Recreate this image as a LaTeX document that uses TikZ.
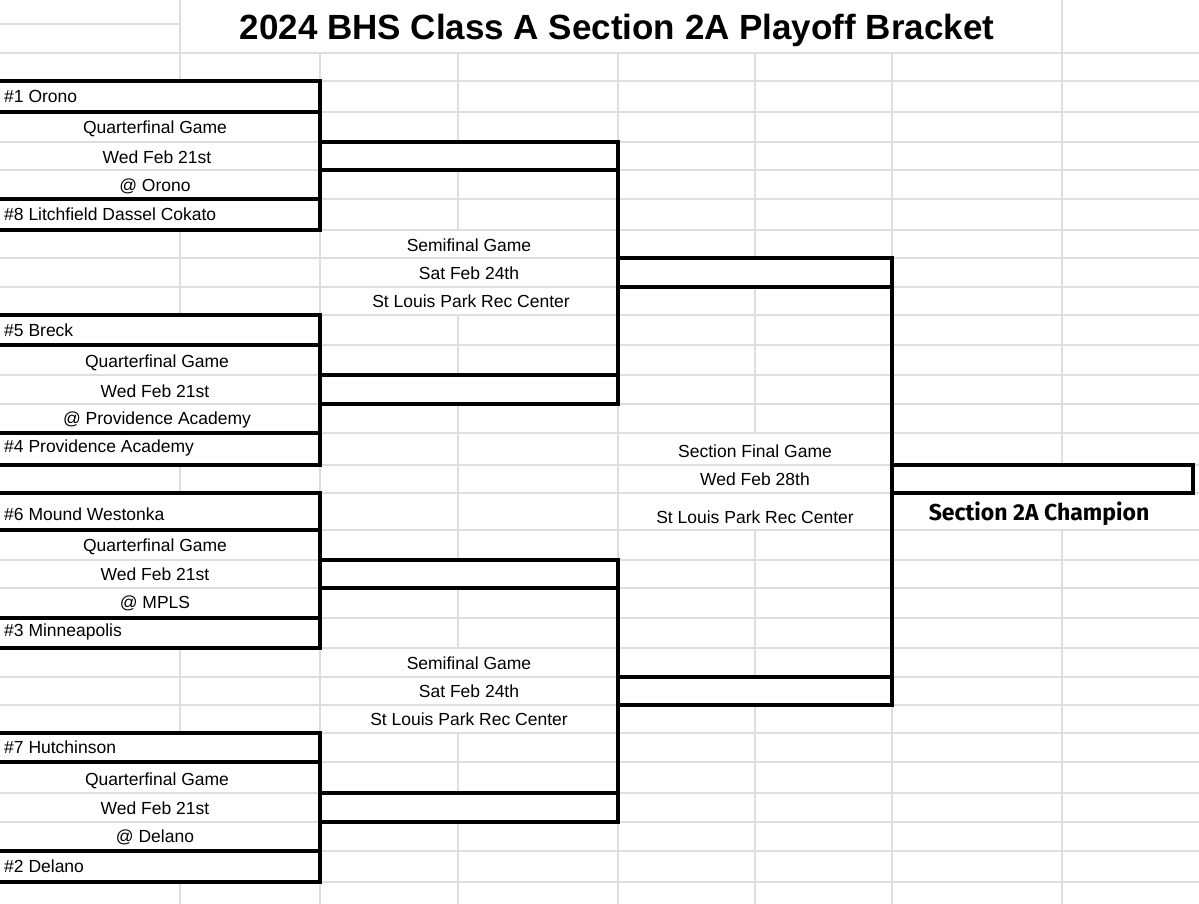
\documentclass[tikz,border=0pt]{standalone}
\usepackage{fontspec}
\setmainfont{Liberation Sans}
\newfontfamily\champfont{Fira Sans}
\begin{document}
\begin{tikzpicture}[x=1pt,y=-1pt,
  grid/.style={draw=black!13,line width=1.2pt},
  thick/.style={draw=black,line width=3.2pt},
  lbl/.style={font=\fontsize{17.5}{20}\selectfont,inner sep=0pt},
  tlbl/.style={lbl,anchor=west}]
\useasboundingbox (0,0) rectangle (1199,904);
\fill[white] (0,0) rectangle (1199,904);
% grid
\foreach \y in {81,112,142,170,199,230,258,287,315,345,375,404,433,465,493,530,560,588,618,648,677,705,733,762,793,822,851,882}
  \draw[grid] (0,\y) -- (1199,\y);
\draw[grid] (0,24) -- (180,24);
\draw[grid] (0,53) -- (1199,53);
\draw[grid] (180,0) -- (180,81);
\draw[grid] (180,230) -- (180,315);
\draw[grid] (180,465) -- (180,493);
\draw[grid] (180,648) -- (180,733);
\draw[grid] (180,882) -- (180,904);
\draw[grid] (1062,0) -- (1062,465) (1062,530) -- (1062,904);
\foreach \x in {320,618,892}
  \draw[grid] (\x,53) -- (\x,904);
\draw[grid] (458,53) -- (458,142) (458,170) -- (458,230) (458,315) -- (458,375) (458,404) -- (458,560) (458,588) -- (458,648) (458,733) -- (458,793) (458,822) -- (458,904);
\draw[grid] (755,53) -- (755,258) (755,287) -- (755,433) (755,530) -- (755,677) (755,705) -- (755,904);
% title
\node[font=\fontsize{35}{40}\selectfont\bfseries] (title) at (617,30) {2024 BHS Class A Section 2A Playoff Bracket};
% team boxes
\draw[thick] (-5,81) rectangle (320,112);
\draw[thick] (-5,199) rectangle (320,230);
\draw[thick] (320,112) -- (320,199);
\draw[thick] (-5,315) rectangle (320,345);
\draw[thick] (-5,433) rectangle (320,465);
\draw[thick] (320,345) -- (320,433);
\draw[thick] (-5,493) rectangle (320,530);
\draw[thick] (-5,618) rectangle (320,648);
\draw[thick] (320,530) -- (320,618);
\draw[thick] (-5,733) rectangle (320,762);
\draw[thick] (-5,851) rectangle (320,882);
\draw[thick] (320,762) -- (320,851);
% quarterfinal winners
\draw[thick] (320,142) rectangle (618,170);
\draw[thick] (320,375) rectangle (618,404);
\draw[thick] (618,170) -- (618,375);
\draw[thick] (320,560) rectangle (618,588);
\draw[thick] (320,793) rectangle (618,822);
\draw[thick] (618,588) -- (618,793);
% semifinal winners
\draw[thick] (618,258) rectangle (892,287);
\draw[thick] (618,677) rectangle (892,705);
\draw[thick] (892,287) -- (892,677);
% champion
\draw[thick] (892,465) rectangle (1193,493);
% team labels
\node[tlbl] (t1) at (4,96) {\#1 Orono};
\node[tlbl] (t8) at (4,214) {\#8 Litchfield Dassel Cokato};
\node[tlbl] (t5) at (4,330) {\#5 Breck};
\node[tlbl] (t4) at (4,448) {\#4 Providence Academy};
\node[tlbl] (t6) at (4,514) {\#6 Mound Westonka};
\node[tlbl] (t3) at (4,632) {\#3 Minneapolis};
\node[tlbl] (t7) at (4,747) {\#7 Hutchinson};
\node[tlbl] (t2) at (4,866) {\#2 Delano};
% quarterfinal info
\node[lbl] (q1a) at (155,129) {Quarterfinal Game};
\node[lbl] (q1b) at (157,157) {Wed Feb 21st};
\node[lbl] (q1c) at (155,186) {@ Orono};
\node[lbl] (q2a) at (157,363) {Quarterfinal Game};
\node[lbl] (q2b) at (155,391) {Wed Feb 21st};
\node[lbl] (q2c) at (157,420) {@ Providence Academy};
\node[lbl] (q3a) at (155,547) {Quarterfinal Game};
\node[lbl] (q3b) at (155,574) {Wed Feb 21st};
\node[lbl] (q3c) at (155,603) {@ MPLS};
\node[lbl] (q4a) at (157,781) {Quarterfinal Game};
\node[lbl] (q4b) at (155,808) {Wed Feb 21st};
\node[lbl] (q4c) at (155,837) {@ Delano};
% semifinal info
\node[lbl] (s1a) at (469,245) {Semifinal Game};
\node[lbl] (s1b) at (469,273) {Sat Feb 24th};
\node[lbl] (s1c) at (471,301) {St Louis Park Rec Center};
\node[lbl] (s2a) at (469,663) {Semifinal Game};
\node[lbl] (s2b) at (469,691) {Sat Feb 24th};
\node[lbl] (s2c) at (469,719) {St Louis Park Rec Center};
% final info
\node[lbl] (fa) at (755,451) {Section Final Game};
\node[lbl] (fb) at (755,479) {Wed Feb 28th};
\node[lbl] (fc) at (755,517) {St Louis Park Rec Center};
\node[font=\fontsize{23}{26}\selectfont\champfont\bfseries,inner sep=0pt] (champ) at (1039,514) {Section 2A Champion};
\end{tikzpicture}
\end{document}
